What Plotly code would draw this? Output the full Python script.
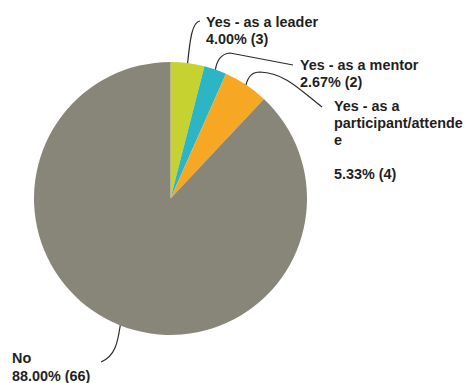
import math
import plotly.graph_objects as go

# Survey responses
categories = ["Yes - as a leader", "Yes - as a mentor", "Yes - as a participant/attendee", "No"]
counts = [3, 2, 4, 66]
colors = ["#c6d22f", "#2cb5c4", "#f6a724", "#878679"]

# Label text, split into lines as drawn next to the pie
label_lines = [
    ["Yes - as a leader", "4.00% (3)"],
    ["Yes - as a mentor", "2.67% (2)"],
    ["Yes - as a", "participant/attende", "e", "", "5.33% (4)"],
    ["No", "88.00% (66)"],
]

W, H = 465, 383
CX, CY, R = 170.5, 198.5, 136.5  # pie centre / radius in pixels

fig = go.Figure(go.Pie(
    labels=categories,
    values=counts,
    marker=dict(colors=colors, line=dict(width=0)),
    sort=False,
    direction="clockwise",
    rotation=0,
    textinfo="none",
    hoverinfo="label+percent+value",
    showlegend=False,
    domain=dict(x=[(CX - R) / W, (CX + R) / W], y=[1 - (CY + R) / H, 1 - (CY - R) / H]),
))


def px(x, y):
    return x / W, 1 - y / H


def rim_point(i):
    """Point on the pie rim at the middle of slice i (clockwise from 12 o'clock)."""
    total = sum(counts)
    start = sum(counts[:i]) / total * 360
    mid = math.radians(start + counts[i] / total * 180)
    return CX + R * math.sin(mid), CY - R * math.cos(mid)


def path(points_cmds):
    out = []
    for cmd, pts in points_cmds:
        coords = " ".join(f"{px(x, y)[0]:.5f},{px(x, y)[1]:.5f}" for x, y in pts)
        out.append(f"{cmd} {coords}")
    return " ".join(out)


s0, s1, s2, s3 = (rim_point(i) for i in range(4))
leaders = [
    [("M", [s0]), ("C", [(190, 40), (192, 22), (200, 21)])],
    [("M", [s1]), ("Q", [(218, 54), (230, 53)]), ("L", [(293, 65)])],
    [("M", [s2]), ("Q", [(249, 72), (260, 72)]), ("C", [(285, 73), (300, 90), (322, 107)])],
    [("M", [s3]), ("C", [(118, 340), (116, 356), (101, 362)])],
]
for cmds in leaders:
    fig.add_shape(type="path", path=path(cmds), xref="paper", yref="paper",
                  line=dict(color="#2a2a2a", width=1.2))

# label anchor: left x, first baseline, line spacing (pixels)
label_pos = [(206, 27, 16.7), (300, 70, 17), (334, 111, 17), (12, 363, 18)]
for lines, (lx, base, step) in zip(label_lines, label_pos):
    for k, line in enumerate(lines):
        if not line:
            continue
        x, y = px(lx, base + k * step - 5)
        fig.add_annotation(x=x, y=y, xref="paper", yref="paper", text=f"<b>{line}</b>",
                           showarrow=False, xanchor="left", yanchor="middle",
                           borderpad=0, borderwidth=0,
                           font=dict(family="Liberation Sans, Arial, sans-serif", size=14.4, color="#1f1f1f"))

fig.update_layout(width=W, height=H, margin=dict(l=0, r=0, t=0, b=0),
                  paper_bgcolor="white", plot_bgcolor="white")
fig.write_html("out.html")
